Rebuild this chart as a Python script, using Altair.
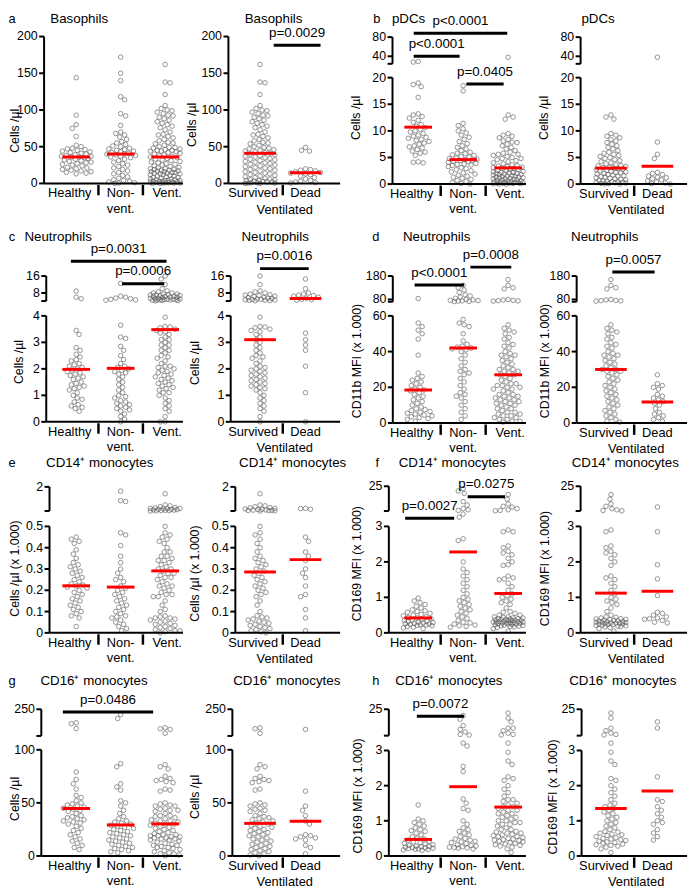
import altair as alt
import numpy as np
import pandas as pd

# ---------------- data ----------------
a_healthy = [144, 93, 80, 75, 64, 52, 50, 48, 47, 46, 45, 44, 43, 42, 41, 40, 39, 38, 37, 37, 36, 36, 35, 34, 33, 32, 31, 30, 29, 28, 27, 26, 25, 24, 22, 21, 20, 19, 18, 17, 16, 15, 14, 13]
a_nonvent = [172, 150, 140, 118, 114, 95, 92, 79, 70, 68, 66, 63, 60, 57, 55, 53, 51, 50, 48, 47, 46, 45, 44, 43, 42, 41, 40, 40, 39, 38, 37, 36, 35, 33, 31, 29, 27, 25, 23, 21, 19, 17, 15, 13, 11, 9, 7, 5, 4, 3, 2, 1, 0.5, 0]
a_survived = [162, 138, 137, 121, 106, 102, 100, 99, 97, 95, 93, 92, 90, 88, 86, 84, 82, 80, 78, 76, 73, 70, 67, 66, 64, 62, 60, 58, 56, 55, 54, 52, 50, 49, 48, 47, 46, 45, 44, 43, 42, 41, 40, 39, 38, 37, 36, 35, 34, 33, 32, 31, 30, 29, 28, 27, 26, 25, 24, 23, 22, 21, 20, 19, 18, 17, 16, 15, 14, 13, 12, 11, 10, 9, 8, 7, 6, 5, 5, 4, 4, 3, 3, 2, 2, 1, 1, 0.5, 0.5, 0, 0]
a_dead = [49, 45, 44, 20, 19, 18, 17, 16, 15, 14, 13, 12, 10, 8, 6, 4, 3, 2, 1, 0.5]

b_healthy = [29, 28, 19, 18.7, 18.3, 16.3, 13.2, 13, 12.7, 12.4, 12, 11.6, 11.2, 10.9, 10.6, 10.3, 10, 9.8, 9.5, 9.2, 9, 8.8, 8.6, 8.4, 8.2, 8, 7.7, 7.5, 7.2, 7, 6.8, 6.5, 6.2, 6, 5.8, 5.4, 4.2, 4.1, 4]
b_nonvent = [18.5, 17.5, 11.4, 11, 10.4, 10, 9.6, 9.2, 8.8, 8.4, 8, 7.6, 7.2, 6.9, 6.6, 6.3, 6, 5.8, 5.7, 5.5, 5.4, 5.2, 5.1, 4.9, 4.8, 4.7, 4.6, 4.5, 4.4, 4.3, 4.2, 4.1, 3.9, 3.8, 3.7, 3.6, 3.5, 3.3, 3.1, 2.9, 2.7, 2.5, 2.3, 2.1, 1.9, 1.7, 1.5, 1.3, 1.1, 0.9, 0.7, 0.5, 0.3, 0.1, 0]
b_survived = [13, 12.6, 12.2, 9.5, 9.2, 9, 8.7, 8.4, 8.1, 7.8, 7.5, 7.2, 6.9, 6.6, 6.3, 6, 5.8, 5.6, 5.4, 5.2, 5, 4.8, 4.6, 4.4, 4.2, 4, 3.8, 3.6, 3.5, 3.4, 3.3, 3.2, 3.1, 3, 2.9, 2.8, 2.7, 2.6, 2.5, 2.4, 2.3, 2.2, 2.1, 2, 1.9, 1.8, 1.7, 1.6, 1.5, 1.4, 1.3, 1.2, 1.1, 1, 0.9, 0.8, 0.7, 0.6, 0.5, 0.45, 0.4, 0.35, 0.3, 0.25, 0.2, 0.15, 0.1, 0.05, 0]
b_dead = [38, 7.9, 5.6, 4.8, 2.2, 2, 1.8, 1.5, 1.3, 1.2, 1, 0.8, 0.6, 0.4, 0.2, 0.1, 0]

c_healthy = [8.9, 6, 5.3, 3.45, 3.3, 2.8, 2.7, 2.55, 2.45, 2.35, 2.3, 2.2, 2.15, 2.1, 2.05, 2, 1.95, 1.9, 1.85, 1.8, 1.75, 1.7, 1.65, 1.6, 1.5, 1.45, 1.4, 1.35, 1.3, 1.25, 1.2, 1.1, 1, 0.9, 0.85, 0.75, 0.65, 0.6, 0.55, 0.5, 0.4]
c_nonvent = [12.5, 6.5, 6, 5.6, 5.3, 5, 4.8, 4.6, 3.65, 3.2, 3.15, 2.85, 2.7, 2.5, 2.35, 2.2, 2.1, 2.05, 2, 1.95, 1.9, 1.85, 1.8, 1.7, 1.6, 1.5, 1.4, 1.3, 1.2, 1.1, 1, 0.95, 0.9, 0.8, 0.75, 0.7, 0.65, 0.6, 0.55, 0.5, 0.45, 0.4, 0.3, 0.2, 0.1, 0]
c_survived = [16, 12, 9, 8.5, 8, 7.5, 7.2, 7, 6.8, 6.5, 6.3, 6, 5.8, 5.6, 5.4, 5.2, 5, 4.9, 4.8, 4.7, 4.6, 4.5, 4.4, 4.3, 3.95, 3.6, 3.58, 3.55, 3.5, 3.45, 3.4, 3.3, 3.2, 3.1, 3, 2.9, 2.8, 2.7, 2.6, 2.5, 2.45, 2.4, 2.3, 2.2, 2.1, 2.05, 2, 1.95, 1.9, 1.85, 1.8, 1.75, 1.7, 1.65, 1.6, 1.55, 1.5, 1.45, 1.4, 1.35, 1.3, 1.25, 1.2, 1.1, 1, 0.9, 0.8, 0.7, 0.6, 0.5, 0.4, 0.2, 0]
c_dead = [14.6, 10, 8, 7.5, 7, 6.8, 6.5, 6, 5.5, 5, 4.8, 4.6, 3.35, 3.1, 2.9, 2.7, 2.1, 1.1, 0]

d_healthy = [84, 56, 54, 52, 50, 47, 38, 28, 26, 25, 24, 23, 22, 21, 20, 19, 18.5, 18, 17, 16, 15, 14, 13, 12, 11, 10, 9, 8, 7.5, 7, 6.5, 6, 5.5, 5, 4.5, 4, 3.5, 3, 2.5, 2, 1]
d_nonvent = [140, 130, 120, 110, 100, 95, 90, 85, 80, 78, 76, 75, 74, 73, 72, 71, 58, 56, 55, 54, 50, 46, 44, 43, 42.5, 42, 41.5, 41, 40, 38, 36, 34, 32, 30, 29, 28, 27, 25, 23, 21, 19, 17, 16, 15, 14, 12, 10, 8, 6, 4, 2]
d_survived = [165, 140, 130, 125, 80, 78, 76, 75, 74, 73, 55, 53, 52, 51, 50, 48, 47, 45, 44, 43, 42, 40, 39, 38, 38, 37, 36, 35, 34, 33, 32, 31, 30, 30, 29, 29, 28, 27, 26, 25, 24, 23, 22, 21, 20, 19, 18, 17, 16, 15, 14, 13, 12, 11, 10, 9, 8, 7, 6, 5, 4, 3, 2, 1, 0.5]
d_dead = [27, 22, 21, 20, 19, 16, 15, 14, 13, 12, 11, 10, 8, 6, 5, 4, 3, 2, 1]

e_healthy = [0.45, 0.44, 0.43, 0.42, 0.39, 0.37, 0.35, 0.33, 0.32, 0.31, 0.3, 0.29, 0.28, 0.27, 0.26, 0.25, 0.24, 0.23, 0.225, 0.22, 0.215, 0.21, 0.2, 0.19, 0.18, 0.17, 0.16, 0.15, 0.14, 0.13, 0.12, 0.11, 0.1, 0.09, 0.08, 0.07, 0.03]
e_nonvent = [1.75, 1.2, 1.15, 0.47, 0.46, 0.41, 0.36, 0.33, 0.3, 0.28, 0.26, 0.25, 0.24, 0.22, 0.21, 0.2, 0.19, 0.18, 0.17, 0.16, 0.15, 0.14, 0.13, 0.12, 0.11, 0.1, 0.09, 0.08, 0.075, 0.07, 0.06, 0.05, 0.04, 0.03, 0.02, 0.01]
e_survived = [1.6, 0.95, 0.9, 0.85, 0.8, 0.78, 0.75, 0.72, 0.7, 0.68, 0.66, 0.65, 0.64, 0.63, 0.62, 0.61, 0.6, 0.5, 0.47, 0.46, 0.44, 0.42, 0.4, 0.38, 0.36, 0.35, 0.34, 0.33, 0.32, 0.31, 0.3, 0.29, 0.28, 0.27, 0.26, 0.25, 0.24, 0.23, 0.22, 0.21, 0.2, 0.19, 0.18, 0.17, 0.15, 0.13, 0.1, 0.08, 0.075, 0.07, 0.065, 0.06, 0.055, 0.05, 0.045, 0.04, 0.035, 0.03, 0.025, 0.02, 0.015, 0.01, 0.005, 0]
e_dead = [0.75, 0.74, 0.7, 0.45, 0.43, 0.38, 0.36, 0.34, 0.3, 0.28, 0.26, 0.22, 0.18, 0.17, 0.11, 0.07, 0.01]

f_healthy = [0.98, 0.9, 0.85, 0.8, 0.75, 0.7, 0.65, 0.62, 0.6, 0.58, 0.55, 0.52, 0.5, 0.48, 0.45, 0.43, 0.42, 0.4, 0.38, 0.36, 0.35, 0.33, 0.32, 0.3, 0.29, 0.28, 0.27, 0.26, 0.25, 0.24, 0.23, 0.22, 0.21, 0.2, 0.18, 0.16, 0.14, 0.12]
f_nonvent = [23, 21, 19, 12, 9, 6, 5, 4.5, 3.8, 3.6, 2.65, 2.6, 2, 1.8, 1.7, 1.6, 1.5, 1.4, 1.3, 1.2, 1.1, 1, 0.95, 0.9, 0.85, 0.8, 0.75, 0.7, 0.65, 0.6, 0.55, 0.5, 0.45, 0.4, 0.35, 0.3, 0.28, 0.25, 0.22, 0.2, 0.18, 0.16]
f_survived = [18, 14, 10, 8, 6, 5, 4.5, 4.2, 2.9, 2.85, 2.45, 2.4, 2.3, 2.25, 2.2, 2.1, 2, 1.9, 1.6, 1.55, 1.5, 1.4, 1.3, 1.2, 1.1, 1, 0.95, 0.9, 0.85, 0.8, 0.7, 0.6, 0.5, 0.45, 0.44, 0.42, 0.4, 0.39, 0.38, 0.37, 0.36, 0.35, 0.34, 0.33, 0.32, 0.31, 0.3, 0.3, 0.29, 0.28, 0.28, 0.27, 0.26, 0.25, 0.25, 0.24, 0.23, 0.22, 0.21, 0.2, 0.19, 0.18, 0.17, 0.15, 0.12, 0.05]
f_dead = [7.4, 2.85, 1.92, 1.52, 1.05, 0.58, 0.55, 0.5, 0.45, 0.42, 0.4, 0.38, 0.35, 0.3, 0.28]

g_healthy = [184, 180, 156, 79, 72, 68, 63, 57, 55, 52, 50, 49, 48, 47, 46, 45, 44, 43, 42, 40, 38, 37, 36, 35, 34, 33, 32, 31, 30, 28, 26, 24, 22, 20, 18, 16, 14, 12, 10, 8, 6]
g_nonvent = [225, 205, 87, 84, 68, 65, 62, 52, 50, 47, 43, 40, 37, 35, 33, 32, 31, 30, 29, 28, 27, 26, 25, 24, 23, 22, 21, 20, 19, 18, 17, 16, 15, 14, 13, 12, 11, 10, 9, 8, 7, 6, 5, 4, 3]
g_survived = [160, 155, 133, 86, 84, 82, 75, 73, 72, 71, 70, 69, 63, 62, 50, 49, 48, 47, 45, 44, 43, 42, 40, 38, 37, 36, 35, 34, 33, 32, 31, 30, 29, 28, 27, 26, 25, 24, 23, 22, 21, 20, 19, 18, 17, 16, 15, 14, 13, 12, 11, 10, 9, 8, 7, 6, 5, 4, 3, 2, 1, 0]
g_dead = [152, 61, 47, 43, 38, 33, 30, 20, 19, 18, 17, 16, 15, 10, 8, 2]

h_healthy = [1.45, 1.05, 1, 0.95, 0.9, 0.85, 0.8, 0.75, 0.72, 0.7, 0.65, 0.6, 0.55, 0.5, 0.48, 0.45, 0.42, 0.4, 0.38, 0.36, 0.34, 0.32, 0.3, 0.28, 0.27, 0.26, 0.25, 0.24, 0.23, 0.22, 0.21, 0.2, 0.19, 0.18, 0.17, 0.16]
h_nonvent = [20, 17, 12, 9, 7, 5, 4.5, 3.5, 3.3, 2.55, 2.4, 1.62, 1.5, 1.35, 1.3, 1, 0.9, 0.8, 0.75, 0.7, 0.65, 0.6, 0.55, 0.5, 0.48, 0.45, 0.42, 0.4, 0.38, 0.35, 0.32, 0.3, 0.28, 0.26, 0.25, 0.24, 0.23, 0.22, 0.2]
h_survived = [22, 18, 10, 8, 6, 5, 4.5, 3.5, 2.95, 2.7, 2.6, 2.2, 2.15, 2, 1.9, 1.8, 1.7, 1.6, 1.5, 1.45, 1.4, 1.35, 1.3, 1.25, 1.2, 1.15, 1.1, 1.05, 1, 0.95, 0.9, 0.85, 0.8, 0.75, 0.7, 0.68, 0.65, 0.62, 0.6, 0.58, 0.55, 0.52, 0.5, 0.48, 0.46, 0.44, 0.42, 0.4, 0.38, 0.36, 0.34, 0.32, 0.3, 0.28, 0.25, 0.2, 0.1]
h_dead = [15, 10, 2.25, 1.6, 1.55, 1.4, 1.3, 1.2, 1.1, 1, 0.95, 0.9, 0.75, 0.65, 0.55, 0.45]

# central lines (red)
a_lines3 = [36, 40, 36];      a_lines2 = [41, 14.5]
b_lines3 = [10.7, 4.6, 3.05]; b_lines2 = [3.0, 3.35]
c_lines3 = [1.98, 2.02, 3.48]; c_lines2 = [3.1, 5.4]
d_lines3 = [18.5, 42, 27];    d_lines2 = [30, 11.8]
e_lines3 = [0.221, 0.215, 0.291]; e_lines2 = [0.286, 0.344]
f_lines3 = [0.42, 2.28, 1.11]; f_lines2 = [1.12, 1.17]
g_lines3 = [44.7, 29.2, 30.2]; g_lines2 = [30.7, 32.6]
h_lines3 = [0.47, 1.97, 1.39]; h_lines2 = [1.35, 1.85]

labels3 = ["Healthy", "Non-\nvent.", "Vent."]
labels2 = ["Survived", "Dead"]

# ---------------- layout ----------------
OFF = 8.0
CW, CH = 692, 884
FONT = "Liberation Sans"

COLS = {
    "L3": dict(centers=[77.0, 122.0, 167.0], end=185.0, vent=False),
    "L2": dict(centers=[263.0, 309.0], end=344.0, vent=True),
    "R3": dict(centers=[423.0, 468.5, 514.0], end=532.0, vent=False),
    "R2": dict(centers=[618.0, 665.0], end=695.0, vent=True),
}

ROWGEO = {
    "a": dict(dom=[0, 200], rng=[180.3, 31.7], segs=[(0, 200)], ticks=[0, 50, 100, 150, 200], cap=None, ty=14.0),
    "b": dict(dom=[0, 20, 24.3, 80], rng=[181.0, 73.3, 59.3, 32.3], segs=[(0, 20), (24.3, 80)], ticks=[0, 5, 10, 15, 20, 24.3, 40, 80], cap=24.3, ty=14.0),
    "c": dict(dom=[0, 4, 4.2, 16], rng=[421.5, 314.3, 299.3, 274.0], segs=[(0, 4), (4.2, 16)], ticks=[0, 1, 2, 3, 4, 4.2, 8, 16], cap=4.2, ty=235.0),
    "d": dict(dom=[0, 60, 70.3, 180], rng=[422.7, 314.3, 300.0, 274.0], segs=[(0, 60), (70.3, 180)], ticks=[0, 20, 40, 60, 70.3, 80, 180], cap=70.3, ty=235.0),
    "e": dict(dom=[0, 0.5, 0.6, 2], rng=[635.0, 527.3, 511.7, 487.3], segs=[(0, 0.5), (0.6, 2)], ticks=[0, 0.1, 0.2, 0.3, 0.4, 0.5, 0.6, 2], cap=0.6, ty=463.3),
    "f": dict(dom=[0, 3, 4, 25], rng=[635.0, 527.3, 511.7, 486.7], segs=[(0, 3), (4, 25)], ticks=[0, 1, 2, 3, 4, 25], cap=4, ty=463.3),
    "g": dict(dom=[0, 100, 120, 250], rng=[860.7, 753.3, 739.3, 712.3], segs=[(0, 100), (120, 250)], ticks=[0, 50, 100, 120, 250], cap=120, ty=683.3),
    "h": dict(dom=[0, 3, 4, 25], rng=[860.7, 754.0, 739.0, 712.3], segs=[(0, 3), (4, 25)], ticks=[0, 1, 2, 3, 4, 25], cap=4, ty=683.3),
}


def swarm(vals, dom, rng, dmin=4.8, wmax=15):
    """deterministic beeswarm: horizontal pixel offsets so that circles overlap little"""
    ys = np.interp(np.asarray(vals, float), dom, rng)
    order = np.argsort(ys, kind="stable")
    px, py = [], []
    offs = np.zeros(len(ys))
    for k, i in enumerate(order):
        y = ys[i]
        sgn = 1 if k % 2 == 0 else -1
        cands = [0.0]
        for s in range(1, wmax + 1):
            cands += [sgn * s, -sgn * s]
        PX, PY = np.array(px), np.array(py)
        if len(PX):
            near = np.abs(PY - y) < dmin
            NX, NY = PX[near], PY[near]
        else:
            NX = NY = np.array([])
        best, bestd = 0.0, -1.0
        for c in cands:
            if len(NX) == 0:
                best = c
                break
            d = float(np.min(np.hypot(NX - c, NY - y)))
            if d >= dmin:
                best = c
                break
            if d > bestd:
                bestd, best = d, c
        offs[i] = best
        px.append(best)
        py.append(y)
    return offs


def text_layer(txt, x, y, size=13.5, angle=0):
    return alt.Chart(pd.DataFrame({"t": [txt]})).mark_text(
        fontSize=size, font=FONT, color="black", align="center", baseline="middle", angle=angle
    ).encode(x=alt.value(x - OFF), y=alt.value(y - OFF), text="t:N")


def panel(row, col, ax, groups, lines, ytitle, ytx, yty, title, title_x, letter=None, letter_x=None, pbars=()):
    g = ROWGEO[row]
    c = COLS[col]
    cen = c["centers"]
    u = cen[1] - cen[0]
    n = len(cen)
    dmin = (ax - cen[0]) / u
    dmax = (c["end"] - cen[0]) / u
    bottom = g["rng"][0]

    xscale = alt.Scale(domain=[dmin, dmax], range=[ax - OFF, c["end"] - OFF], nice=False, zero=False)
    yscale = alt.Scale(domain=g["dom"], range=[r - OFF for r in g["rng"]], nice=False, zero=False)

    if n == 3:
        labpos = [0 - 6.5 / u, 1.0, 2 + 2.0 / u]
        labs = labels3
        hw = 14.0 / u
    else:
        labpos = [0 - 7.0 / u, 1.0]
        labs = labels2
        hw = 16.0 / u

    # data points (beeswarm)
    recs = []
    for gi, vals in enumerate(groups):
        offs = swarm(vals, g["dom"], g["rng"])
        for v, o in zip(vals, offs):
            recs.append({"x": gi + o / u, "y": v})
    pts = alt.Chart(pd.DataFrame(recs)).mark_point(
        shape="circle", filled=False, size=21, strokeWidth=1, color="#4d4d4d", opacity=0.6
    ).encode(
        x=alt.X("x:Q", scale=xscale, axis=None),
        y=alt.Y("y:Q", scale=yscale, axis=None),
    )

    # red central lines
    med = pd.DataFrame({"x": [i - hw for i in range(n)], "x2": [i + hw for i in range(n)], "y": lines})
    medl = alt.Chart(med).mark_rule(color="#ff0000", strokeWidth=3).encode(
        x=alt.X("x:Q", axis=None), x2="x2:Q", y=alt.Y("y:Q", axis=None))

    # broken y axis: segments, ticks, labels
    seg = pd.DataFrame({"x": [dmin] * len(g["segs"]), "y": [s[0] for s in g["segs"]], "y2": [s[1] for s in g["segs"]]})
    segl = alt.Chart(seg).mark_rule(color="black", strokeWidth=2).encode(
        x=alt.X("x:Q", axis=None), y=alt.Y("y:Q", axis=None), y2="y2:Q")
    tk = pd.DataFrame({"y": g["ticks"],
                       "lab": ["" if (g["cap"] is not None and t == g["cap"]) else f"{t:g}" for t in g["ticks"]]})
    tkl = alt.Chart(tk).mark_rule(color="black", strokeWidth=2).encode(
        x=alt.value(ax - OFF - 5), x2=alt.value(ax - OFF), y=alt.Y("y:Q", axis=None))
    tkt = alt.Chart(tk).mark_text(fontSize=12.5, font=FONT, color="black", align="right", baseline="middle").encode(
        x=alt.value(ax - OFF - 6.5), y=alt.Y("y:Q", axis=None), text="lab:N")

    # x axis line
    xl = pd.DataFrame({"x": [dmin], "x2": [dmax], "y": [0.0]})
    xll = alt.Chart(xl).mark_rule(color="black", strokeWidth=2).encode(
        x=alt.X("x:Q", axis=None), x2="x2:Q", y=alt.Y("y:Q", axis=None))

    # category labels
    lb = pd.DataFrame({"x": labpos, "t": labs})
    lbl = alt.Chart(lb).mark_text(fontSize=13, font=FONT, color="black", align="center", baseline="top",
                                  lineBreak="\n", lineHeight=15.5).encode(
        x=alt.X("x:Q", axis=None), y=alt.value(bottom - OFF + 4.2), text="t:N")

    # separators between categories
    sep = pd.DataFrame({"x": [i + 0.5 for i in range(n - 1)]})
    sepl = alt.Chart(sep).mark_rule(color="black", strokeWidth=2.5).encode(
        x=alt.X("x:Q", axis=None), y=alt.value(bottom - OFF + 1.5), y2=alt.value(bottom - OFF + 12))

    layers = [pts, medl, segl, tkl, tkt, xll, lbl, sepl]

    if c["vent"]:
        vd = pd.DataFrame({"x": [0.5 + 2.0 / u], "t": ["Ventilated"]})
        layers.append(alt.Chart(vd).mark_text(fontSize=13, font=FONT, color="black", align="center", baseline="middle").encode(
            x=alt.X("x:Q", axis=None), y=alt.value(bottom - OFF + 26.5), text="t:N"))

    if pbars:
        pb = pd.DataFrame([{"x1": a, "x2": b, "xm": (a + b) / 2, "y": yv, "t": t} for a, b, yv, t in pbars])
        layers.append(alt.Chart(pb).mark_rule(color="black", strokeWidth=3).encode(
            x=alt.X("x1:Q", axis=None), x2="x2:Q", y=alt.Y("y:Q", axis=None)))
        layers.append(alt.Chart(pb).mark_text(fontSize=13.5, font=FONT, color="black", dy=-12.5, baseline="middle").encode(
            x=alt.X("xm:Q", axis=None), y=alt.Y("y:Q", axis=None), text="t:N"))

    layers.append(text_layer(ytitle, ytx, yty, size=12.5, angle=270))
    layers.append(text_layer(title, title_x, g["ty"]))
    if letter:
        layers.append(text_layer(letter, letter_x, g["ty"], size=13))
    return alt.layer(*layers)


panels = [
    panel("a", "L3", 44.5, [a_healthy, a_nonvent, a_survived + a_dead], a_lines3, "Cells /µl", 15.0, 127, "Basophils", 80, "a", 12),
    panel("a", "L2", 231.0, [a_survived, a_dead], a_lines2, "Cells /µl", 194, 121, "Basophils", 276.7,
          pbars=[(0.30, 1.33, 188, "p=0.0029")]),
    panel("b", "R3", 397.0, [b_healthy, b_nonvent, b_survived + b_dead], b_lines3, "Cells /µl", 360, 114, "pDCs", 413.3, "b", 381,
          pbars=[(-0.10, 1.98, 88, "p<0.0001"), (-0.10, 0.92, 40, "p<0.0001"), (1.07, 1.90, 18.8, "p=0.0405")]),
    panel("b", "R2", 587.3, [b_survived, b_dead], b_lines2, "Cells /µl", 550, 114, "pDCs", 605),

    panel("c", "L3", 46.7, [c_healthy, c_nonvent, c_survived + c_dead], c_lines3, "Cells /µl", 19, 361, "Neutrophils", 58.7, "c", 12,
          pbars=[(-0.12, 2.03, 23.0, "p=0.0031"), (1.03, 1.98, 12.35, "p=0.0006")]),
    panel("c", "L2", 233.3, [c_survived, c_dead], c_lines2, "Cells /µl", 197.5, 362, "Neutrophils", 278.3,
          pbars=[(0.0, 1.07, 19.5, "p=0.0016")]),
    panel("d", "R3", 397.3, [d_healthy, d_nonvent, d_survived + d_dead], d_lines3, "CD11b MFI (x 1.000)", 361, 360, "Neutrophils", 441.7, "d", 380,
          pbars=[(-0.08, 1.02, 142, "p<0.0001"), (1.16, 2.07, 218, "p=0.0008")]),
    panel("d", "R2", 583.3, [d_survived, d_dead], d_lines2, "CD11b MFI (x 1.000)", 551, 360, "Neutrophils", 611.7,
          pbars=[(0.03, 0.94, 197, "p=0.0057")]),

    panel("e", "L3", 50.0, [e_healthy, e_nonvent, e_survived + e_dead], e_lines3, "Cells /µl (x 1.000)", 15.5, 570, "CD14⁺ monocytes", 100.8, "e", 12),
    panel("e", "L2", 238.0, [e_survived, e_dead], e_lines2, "Cells /µl (x 1.000)", 197.5, 575, "CD14⁺ monocytes", 296),
    panel("f", "R3", 393.3, [f_healthy, f_nonvent, f_survived + f_dead], f_lines3, "CD169 MFI (x 1.000)", 361, 565, "CD14⁺ monocytes", 457.5, "f", 381.7,
          pbars=[(-0.29, 0.80, 3.53, "p=0.0027"), (1.10, 1.93, 16.1, "p=0.0275")]),
    panel("f", "R2", 587.3, [f_survived, f_dead], f_lines2, "CD169 MFI (x 1.000)", 551, 570, "CD14⁺ monocytes", 632.5),

    panel("g", "L3", 41.7, [g_healthy, g_nonvent, g_survived + g_dead], g_lines3, "Cells /µl", 15.0, 803, "CD16⁺ monocytes", 95, "g", 12,
          pbars=[(-0.30, 1.73, 237, "p=0.0486")]),
    panel("g", "L2", 235.0, [g_survived, g_dead], g_lines2, "Cells /µl", 197, 801, "CD16⁺ monocytes", 290),
    panel("h", "R3", 393.3, [h_healthy, h_nonvent, h_survived + h_dead], h_lines3, "CD169 MFI (x 1.000)", 362, 800, "CD16⁺ monocytes", 454, "h", 380,
          pbars=[(-0.03, 1.02, 19.5, "p=0.0072")]),
    panel("h", "R2", 588.3, [h_survived, h_dead], h_lines2, "CD169 MFI (x 1.000)", 559, 801, "CD16⁺ monocytes", 630),
]

chart = (
    alt.layer(*panels)
    .resolve_scale(x="independent", y="independent")
    .properties(width=CW, height=CH, autosize=alt.AutoSizeParams(type="none"), padding=0)
    .configure(font=FONT)
    .configure_view(stroke=None)
)

chart.save("out.html", embed_options={"renderer": "svg", "actions": False})
